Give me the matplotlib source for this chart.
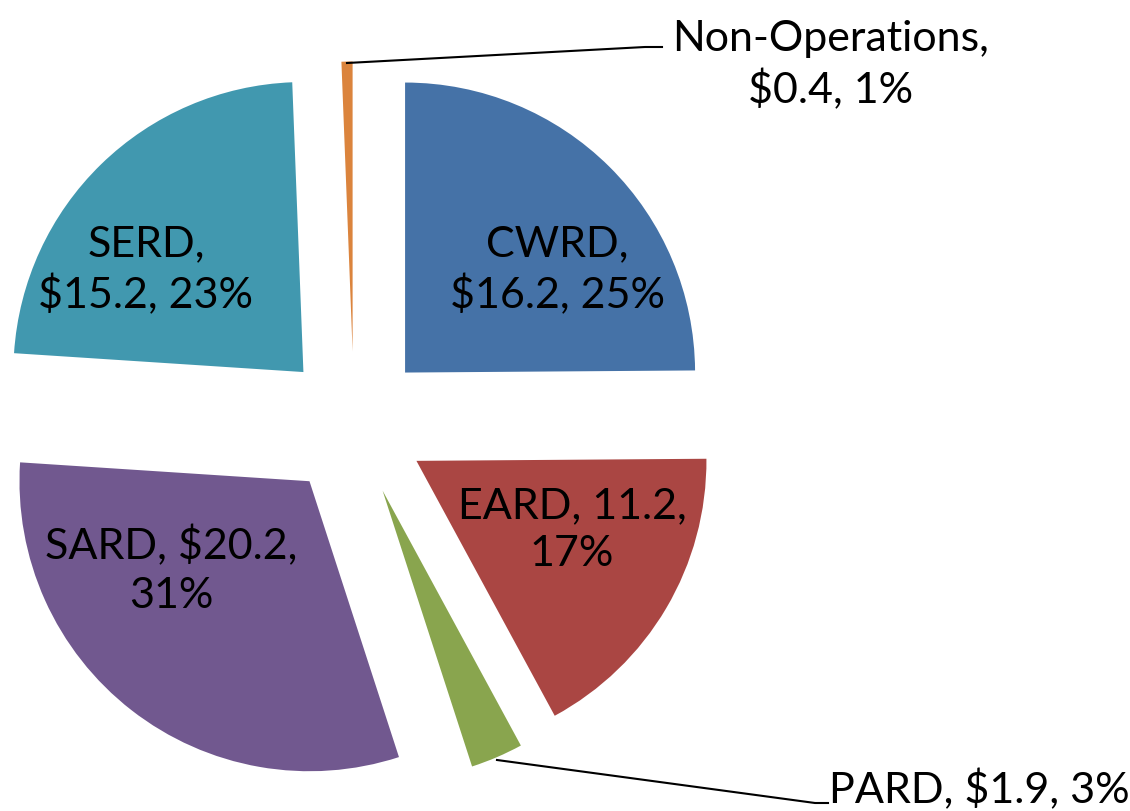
import matplotlib
matplotlib.use("Agg")
import matplotlib.pyplot as plt

labels = ["CWRD", "EARD", "PARD", "SARD", "SERD", "Non-Operations"]
values = [16.2, 11.2, 1.9, 20.2, 15.2, 0.4]
percents = ["25%", "17%", "3%", "31%", "23%", "1%"]
label_texts = ["CWRD,\n$16.2, 25%", "EARD, 11.2,\n17%", "PARD, $1.9, 3%",
               "SARD, $20.2,\n31%", "SERD,\n$15.2, 23%", "Non-Operations,\n$0.4, 1%"]
colors = ["#4572A7", "#AA4643", "#89A54E", "#71588F", "#4198AF", "#DB843D"]

W, H = 1130, 811
R = 290.0
cx, cy = 354.0, 424.0  # pixel position of pie centre (image coords)

fig = plt.figure(figsize=(W / 100, H / 100), dpi=100)
ax = fig.add_axes([0, 0, 1, 1])

ax.pie(values, colors=colors, startangle=90, counterclock=False,
       explode=[0.25] * len(values), radius=1.0, center=(0, 0),
       wedgeprops=dict(linewidth=0))
ax.set_xlim(-cx / R, (W - cx) / R)
ax.set_ylim(-(H - cy) / R, cy / R)
ax.set_aspect("equal")
ax.axis("off")

def px(x, y):
    return ((x - cx) / R, (cy - y) / R)

font = dict(family="Lato", fontsize=31, color="black", ha="center", va="center",
            linespacing=1.32)
positions = [(557, 270), (572, 530), (979, 790), (171, 570), (146, 270), (831, 65)]
for t, (x, y) in zip(label_texts, positions):
    ax.text(*px(x, y), t, **font)

# leader lines
nx = [px(347, 63)[0], px(645, 47)[0], px(662, 47)[0]]
ny = [px(347, 63)[1], px(645, 47)[1], px(662, 47)[1]]
ax.plot(nx, ny, color="black", lw=1.5)
lx = [px(497, 760)[0], px(815, 803)[0], px(828, 803)[0]]
ly = [px(497, 760)[1], px(815, 803)[1], px(828, 803)[1]]
ax.plot(lx, ly, color="black", lw=1.5)

fig.savefig("out.png", dpi=100, facecolor="white")
